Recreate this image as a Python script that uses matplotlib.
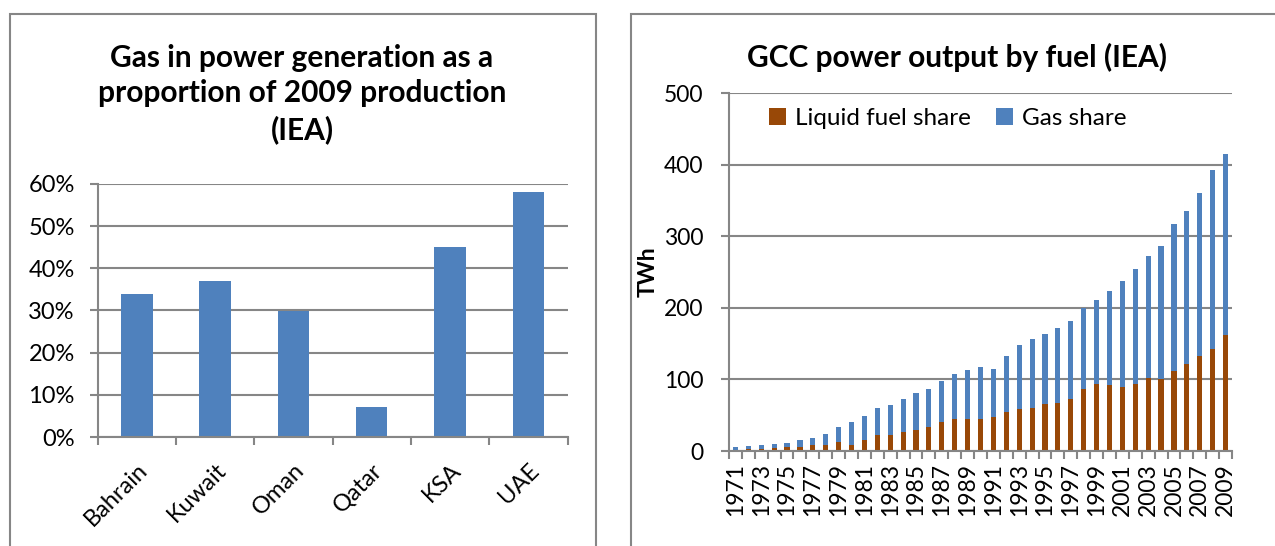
import matplotlib
matplotlib.use('Agg')
import matplotlib.pyplot as plt
import numpy as np
from matplotlib.patches import Rectangle
from matplotlib.ticker import FixedLocator, PercentFormatter

plt.rcParams['font.family'] = ['Lato', 'DejaVu Sans']

# left chart data
countries = ['Bahrain', 'Kuwait', 'Oman', 'Qatar', 'KSA', 'UAE']
gas_pct = [0.34, 0.37, 0.30, 0.07, 0.45, 0.58]

# right chart data (TWh)
years = list(range(1971, 2010))
total_twh = [5, 6.5, 8, 9.5, 11, 15, 18, 24, 33.5, 40.5,
             49, 60, 64, 72, 80.5, 87, 98, 107, 113, 117,
             115, 132, 148, 157, 163.5, 171.5, 182, 199.5, 210.5, 223,
             237, 253.5, 272.5, 287, 316.5, 335.5, 360, 392, 415.5]
liquid_twh = [2, 2.5, 3, 4, 5, 6, 8, 9, 12.5, 9,
              15, 23, 23, 27, 30, 33, 40, 45, 45, 45,
              47, 55, 58, 60.5, 66, 67.5, 72, 86, 93, 92,
              90, 93.5, 102, 101, 112, 121, 132, 142, 162]
gas_twh = [t - l for t, l in zip(total_twh, liquid_twh)]

blue = '#4F81BD'
brown = '#984807'
grey = '#868686'

W, H = 1275, 546
fig = plt.figure(figsize=(W / 100, H / 100), dpi=100)


def px_axes(l, t, r, b):
    return fig.add_axes([l / W, (H - b) / H, (r - l) / W, (b - t) / H])


def style(ax):
    for s in ['top', 'right']:
        ax.spines[s].set_visible(False)
    for s in ['left', 'bottom']:
        ax.spines[s].set_color(grey)
        ax.spines[s].set_linewidth(1.5)
    ax.grid(axis='y', color=grey, linewidth=1.5)
    ax.set_axisbelow(True)
    ax.tick_params(axis='y', length=5.5, width=1.5, color=grey)
    ax.tick_params(axis='x', which='major', length=0)
    ax.tick_params(axis='x', which='minor', length=5.5, width=1.5, color=grey)


# panel borders
for x0, x1 in [(10, 596), (631, 1290)]:
    fig.add_artist(Rectangle((x0 / W, -0.1), (x1 - x0) / W, (H - 14) / H + 0.1,
                             transform=fig.transFigure, fill=False,
                             edgecolor=grey, linewidth=1.5))

# left chart
ax1 = px_axes(97.7, 184, 567.5, 437)
x1 = np.arange(len(countries))
ax1.bar(x1, gas_pct, width=0.4, color=blue)
ax1.set_xlim(-0.5, len(countries) - 0.5)
ax1.set_ylim(0, 0.6)
ax1.set_yticks(np.arange(0, 0.61, 0.1))
ax1.yaxis.set_major_formatter(PercentFormatter(1.0, decimals=0))
ax1.set_xticks(x1)
ax1.set_xticklabels(countries, rotation=45, ha='right', rotation_mode='anchor')
ax1.xaxis.set_minor_locator(FixedLocator(np.arange(-0.5, len(countries), 1)))
style(ax1)
ax1.tick_params(axis='x', pad=16)
ax1.tick_params(axis='y', pad=11)
ax1.tick_params(labelsize=17)
fig.text(302 / W, 1 - 94 / H, 'Gas in power generation as a\nproportion of 2009 production\n(IEA)',
         ha='center', va='center', fontsize=21.5, fontweight='bold', linespacing=1.33)

# right chart
ax2 = px_axes(729, 93, 1232, 451)
x2 = np.arange(len(years))
ax2.bar(x2, liquid_twh, width=0.4, color=brown, label='Liquid fuel share')
ax2.bar(x2, gas_twh, width=0.4, bottom=liquid_twh, color=blue, label='Gas share')
ax2.set_xlim(-0.5, len(years) - 0.5)
ax2.set_ylim(0, 500)
ax2.set_yticks(range(0, 501, 100))
ax2.set_xticks(x2[::2])
ax2.set_xticklabels([str(y) for y in years[::2]], rotation=90)
ax2.xaxis.set_minor_locator(FixedLocator(np.arange(-0.5, len(years), 1)))
style(ax2)
ax2.tick_params(axis='y', pad=13)
ax2.tick_params(axis='x', pad=9)
ax2.tick_params(labelsize=16.5)
ax2.set_ylabel('TWh', fontsize=16.5, fontweight='bold', labelpad=4)
ax2.legend(loc='upper center', bbox_to_anchor=(0.435, 1.018), ncol=2, frameon=False,
           fontsize=17.5, handlelength=0.7, handleheight=0.7, columnspacing=1.0,
           handletextpad=0.4)
fig.text(957 / W, 1 - 57 / H, 'GCC power output by fuel (IEA)',
         ha='center', va='center', fontsize=21.5, fontweight='bold')

fig.savefig('out.png', dpi=100)
